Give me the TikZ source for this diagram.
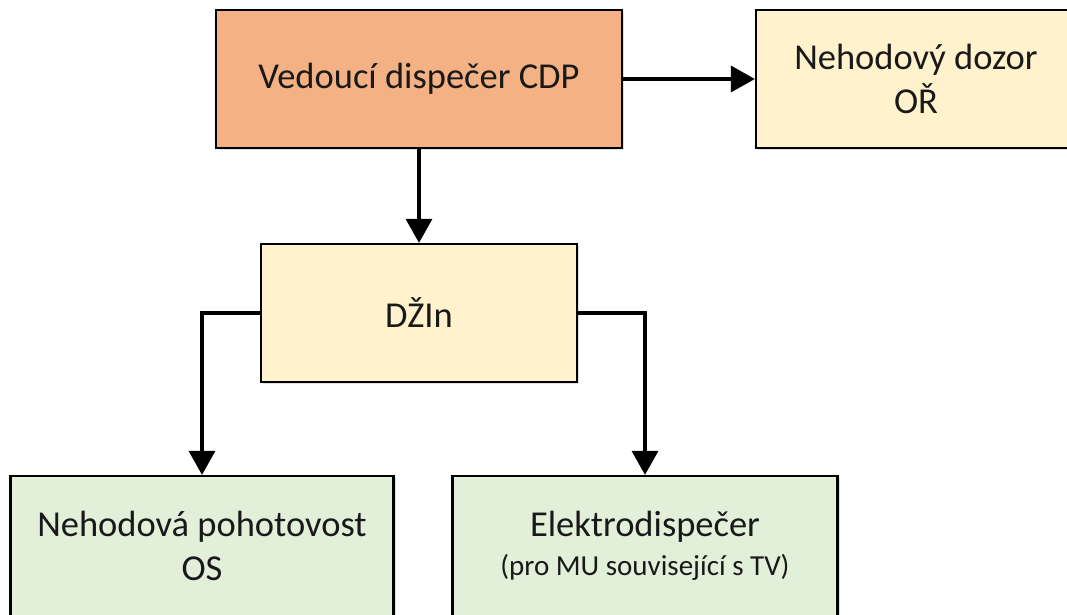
\documentclass[tikz,border=0pt]{standalone}
\usepackage{fontspec}
\setmainfont{Carlito}
\usetikzlibrary{arrows.meta,shadows}
\definecolor{cOrange}{HTML}{F4B183}
\definecolor{cYellow}{HTML}{FFF2CC}
\definecolor{cGreen}{HTML}{E2F0D9}
\tikzset{
  box/.style={draw=black, line width=2.2pt, rectangle, align=center, inner sep=0pt,
    font=\fontsize{36.5}{44}\selectfont, text=black!90,
    drop shadow={opacity=0.25, shadow xshift=2pt, shadow yshift=-2pt}},
  conn/.style={line width=3.2pt, -{Triangle[width=26pt,length=24pt]}},
}
\begin{document}
\begin{tikzpicture}[x=1pt,y=-1pt]
\useasboundingbox (0,0) rectangle (1067,615);
\fill[white] (0,0) rectangle (1067,615);
\node[box, fill=cOrange, minimum width=406pt, minimum height=138pt] (cdp) at (419,79) {Vedoucí dispečer CDP};
\node[box, fill=cYellow, minimum width=320pt, minimum height=138pt] (dozor) at (916,79) {Nehodový dozor\\OŘ};
\node[box, fill=cYellow, minimum width=316pt, minimum height=138pt] (dzin) at (419,313) {DŽIn};
\node[box, fill=cGreen, minimum width=383pt, minimum height=140pt] (pohot) at (202,546) {Nehodová pohotovost\\OS};
\node[box, fill=cGreen, minimum width=385pt, minimum height=140pt] (elektro) at (645,546) {Elektrodispečer\\[-5pt]{\fontsize{29}{34}\selectfont (pro MU související s TV)}};
\draw[conn] (cdp.east) -- (dozor.west);
\draw[conn] (cdp.south) -- (dzin.north);
\draw[conn] (dzin.west) -| (pohot.north);
\draw[conn] (dzin.east) -| (elektro.north);
\end{tikzpicture}
\end{document}
